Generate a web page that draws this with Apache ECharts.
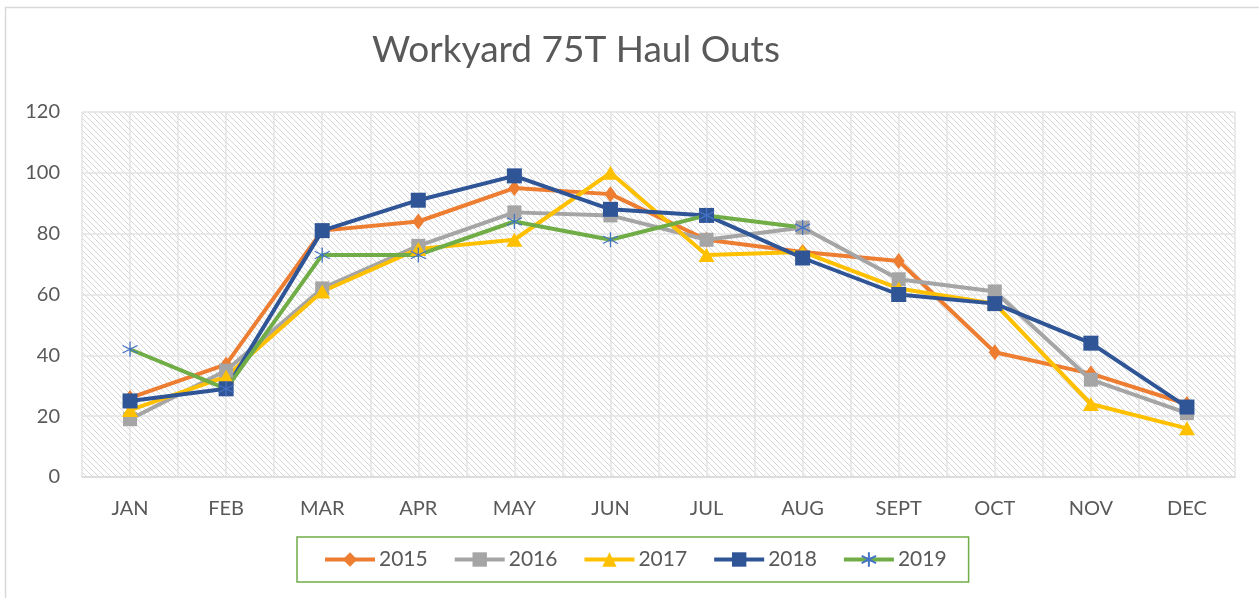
<!DOCTYPE html>
<html><head><meta charset="utf-8">
<script src="https://cdn.jsdelivr.net/npm/echarts@6/dist/echarts.min.js"></script>
<style>html,body{margin:0;padding:0;background:#fff}#c{width:1259px;height:598px}</style>
</head><body><div id="c"></div>
<script>
const categories = ['JAN','FEB','MAR','APR','MAY','JUN','JUL','AUG','SEPT','OCT','NOV','DEC'];
const s2015 = [26,37,81,84,95,93,78,74,71,41,34,24];
const s2016 = [19,35,62,76,87,86,78,82,65,61,32,21];
const s2017 = [22,33,61,75,78,100,73,74,62,57,24,16];
const s2018 = [25,29,81,91,99,88,86,72,60,57,44,23];
const s2019 = [42,29,73,73,84,78,86,82,null,null,null,null];
const yTicks = [0,20,40,60,80,100,120];
const titleText = 'Workyard 75T Haul Outs';

const FONT = 'Lato';
const TXT = '#595959';

const pc = document.createElement('canvas');
pc.width = 6; pc.height = 6;
const g = pc.getContext('2d');
g.fillStyle = '#ffffff'; g.fillRect(0,0,6,6);
g.strokeStyle = '#d6d6d6'; g.lineWidth = 1;
g.beginPath();
g.moveTo(-1,-1); g.lineTo(7,7);
g.moveTo(-1,5); g.lineTo(1,7);
g.moveTo(5,-1); g.lineTo(7,1);
g.stroke();

const ast = 'path://M0,-10L0,10M-8.66,-5L8.66,5M-8.66,5L8.66,-5';

function mk(name, data, color, symbol, size, extra) {
  return Object.assign({
    name, type: 'line', data, xAxisIndex: 0, yAxisIndex: 0,
    symbol, symbolSize: size, lineStyle: {color, width: 4},
    itemStyle: {color}, color, z: 3
  }, extra || {});
}

const chart = echarts.init(document.getElementById('c'));
chart.setOption({
  animation: false,
  backgroundColor: '#fff',
  graphic: [{type:'rect', shape:{x:5.5,y:7.5,width:1260,height:620}, style:{fill:'none', stroke:'#d9d9d9', lineWidth:1.5}, silent:true}],
  title: {text: titleText, left: 367, top: 27, textStyle:{fontFamily: FONT, fontSize: 37, fontWeight: 'normal', color: TXT}},
  grid: {left: 82, right: 24, top: 112, bottom: 121, show: true, borderWidth: 0,
         backgroundColor: {image: pc, repeat: 'repeat'}},
  legend: {
    left: 297, top: 537,
    padding: [12, 22, 12, 26], itemGap: 25,
    borderColor: '#70AD47', borderWidth: 1.5,
    itemWidth: 50, itemHeight: 18,
    lineStyle: {width: 4},
    textStyle: {fontFamily: FONT, fontSize: 21, color: TXT, padding:[0,0,0,-1]},
    data: ['2015','2016','2017','2018','2019']
  },
  xAxis: [
    {type: 'category', data: categories, boundaryGap: true,
     axisLine: {lineStyle: {color: '#d9d9d9', width: 1.5}}, axisTick: {show: false},
     axisLabel: {fontFamily: FONT, fontSize: 20, color: TXT, margin: 22},
     splitLine: {show: false}},
    {type: 'value', min: 0, max: 24, interval: 1, show: true, position: 'bottom',
     axisLine: {show: false}, axisTick: {show: false}, axisLabel: {show: false},
     splitLine: {show: true, lineStyle: {color: '#e3e3e3', width: 1.5}}}
  ],
  yAxis: {type: 'value', min: yTicks[0], max: yTicks[yTicks.length-1], interval: 20,
    axisLine: {show: false}, axisTick: {show: false},
    axisLabel: {fontFamily: FONT, fontSize: 20, color: TXT, margin: 22},
    splitLine: {lineStyle: {color: '#e3e3e3', width: 1.5}}},
  series: [
    mk('2015', s2015, '#ED7D31', 'diamond', [12,16]),
    mk('2016', s2016, '#A5A5A5', 'rect', 14),
    mk('2017', s2017, '#FFC000', 'triangle', [16,14]),
    mk('2018', s2018, '#2F5597', 'rect', 15),
    mk('2019', s2019, '#70AD47', ast, 15, {
      itemStyle: {color: 'none', borderColor: '#4472C4', borderWidth: 1.3}, connectNulls: false})
  ]
});
</script></body></html>
